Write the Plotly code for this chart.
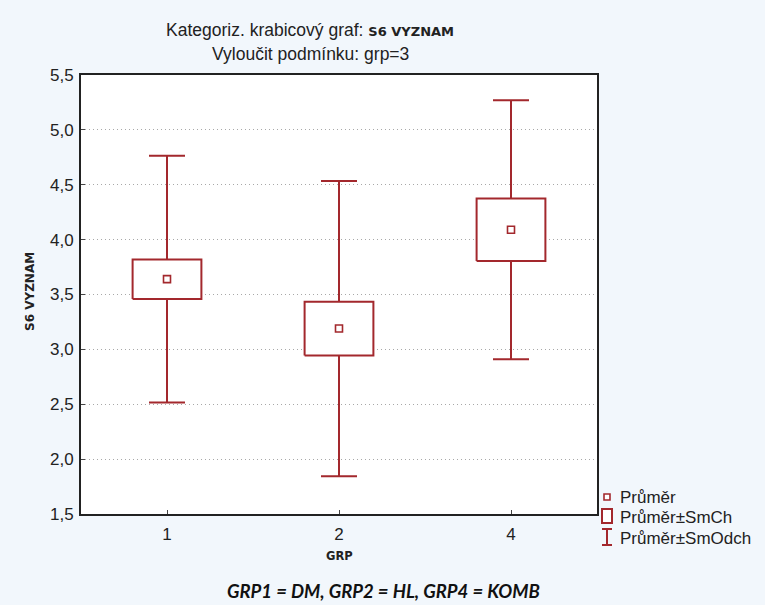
import plotly.graph_objects as go

# Group statistics for S6 VYZNAM (grp=3 excluded)
groups = ["1", "2", "4"]
means = [3.64, 3.19, 4.09]          # Průměr
se = [0.18, 0.245, 0.285]           # SmCh (standard error)
sd = [1.125, 1.345, 1.18]           # SmOdch (standard deviation)

RED = "#a3282d"
FONT = "Liberation Sans, Arial, sans-serif"

W, H = 765, 605
ML, MR, MT, MB = 81, 168, 75, 91
PW, PH = W - ML - MR, H - MT - MB


def px(xp):
    return (xp - ML) / PW


def py(yp):
    return (H - MB - yp) / PH


pos = list(range(len(groups)))
half = 0.2

fig = go.Figure()

# whiskers: mean ± SD
fig.add_trace(go.Scatter(
    x=pos, y=means, mode="markers",
    marker=dict(size=1, opacity=0),
    error_y=dict(type="data", array=sd, symmetric=True,
                 color=RED, thickness=2, width=18),
    showlegend=False, hoverinfo="skip"))

# boxes: mean ± SE
for p, m, s in zip(pos, means, se):
    fig.add_trace(go.Scatter(
        x=[p - half, p + half, p + half, p - half, p - half],
        y=[m - s, m - s, m + s, m + s, m - s],
        mode="lines", fill="toself", fillcolor="white",
        line=dict(color=RED, width=2),
        showlegend=False, hoverinfo="skip"))

# means
fig.add_trace(go.Scatter(
    x=pos, y=means, mode="markers",
    marker=dict(symbol="square-open", size=7, color=RED,
                line=dict(width=1.6, color=RED)),
    showlegend=False))

shapes = []
annotations = []

# legend drawn beside the plot
lx_text = 618
legend_items = ["Průměr", "Průměr±SmCh", "Průměr±SmOdch"]
legend_y = [497, 517, 538]
# small square
shapes.append(dict(type="rect", xref="paper", yref="paper",
                   x0=px(604), x1=px(610), y0=py(500), y1=py(494),
                   line=dict(color=RED, width=1.6), fillcolor="white"))
# big square
shapes.append(dict(type="rect", xref="paper", yref="paper",
                   x0=px(602), x1=px(612), y0=py(523), y1=py(509),
                   line=dict(color=RED, width=2), fillcolor="white"))
# I-beam
for (xa, ya, xb, yb) in [(607, 529, 607, 545), (602, 529, 612, 529), (602, 545, 612, 545)]:
    shapes.append(dict(type="line", xref="paper", yref="paper",
                       x0=px(xa), y0=py(ya), x1=px(xb), y1=py(yb),
                       line=dict(color=RED, width=2)))
for txt, yy in zip(legend_items, legend_y):
    annotations.append(dict(text=txt, xref="paper", yref="paper",
                            x=px(lx_text), y=py(yy), xanchor="left", yanchor="middle",
                            showarrow=False, font=dict(family=FONT, size=17, color="#222")))

# titles
annotations.append(dict(
    text="Kategoriz. krabicový graf: <b><span style='font-family:DejaVu Sans;font-size:13px'>S6 VYZNAM</span></b>",
    xref="paper", yref="paper", x=px(310), y=py(30), xanchor="center", yanchor="middle",
    showarrow=False, font=dict(family=FONT, size=17.5, color="#222")))
annotations.append(dict(
    text="Vyloučit podmínku: grp=3",
    xref="paper", yref="paper", x=px(310), y=py(54), xanchor="center", yanchor="middle",
    showarrow=False, font=dict(family=FONT, size=17.5, color="#222")))
annotations.append(dict(
    text="<b>S6 VYZNAM</b>", textangle=-90,
    xref="paper", yref="paper", x=px(30), y=py(292), xanchor="center", yanchor="middle",
    showarrow=False, font=dict(family="DejaVu Sans", size=12, color="#222")))
annotations.append(dict(
    text="<b>GRP</b>",
    xref="paper", yref="paper", x=px(339), y=py(556), xanchor="center", yanchor="middle",
    showarrow=False, font=dict(family="DejaVu Sans", size=11.5, color="#222")))
annotations.append(dict(
    text="<b><i>GRP1 = DM, GRP2 = HL, GRP4 = KOMB</i></b>",
    xref="paper", yref="paper", x=px(383), y=py(591), xanchor="center", yanchor="middle",
    showarrow=False, font=dict(family="Lato", size=18.5, color="#111")))

fig.update_layout(
    width=W, height=H,
    margin=dict(l=ML, r=MR, t=MT, b=MB),
    paper_bgcolor="#f2f7fc", plot_bgcolor="white",
    separators=", ",
    font=dict(family=FONT, size=17, color="#222"),
    shapes=shapes, annotations=annotations,
    showlegend=False,
)
fig.update_xaxes(
    range=[-0.5, 2.5], tickmode="array", tickvals=pos, ticktext=groups,
    showgrid=False, zeroline=False,
    showline=True, mirror=True, linecolor="#222", linewidth=2,
    ticks="inside", ticklen=4, tickcolor="#444", ticklabelstandoff=4,
    tickfont=dict(size=17, color="#222"), fixedrange=True)
fig.update_yaxes(
    range=[1.5, 5.5], dtick=0.5, tickformat=".1f",
    showgrid=True, gridcolor="#a8a8a8", griddash="1px,3px", gridwidth=1,
    zeroline=False,
    showline=True, mirror=True, linecolor="#222", linewidth=2,
    ticks="inside", ticklen=4, tickcolor="#444", ticklabelstandoff=2,
    tickfont=dict(size=17, color="#222"), fixedrange=True)

fig.write_html("out.html")
